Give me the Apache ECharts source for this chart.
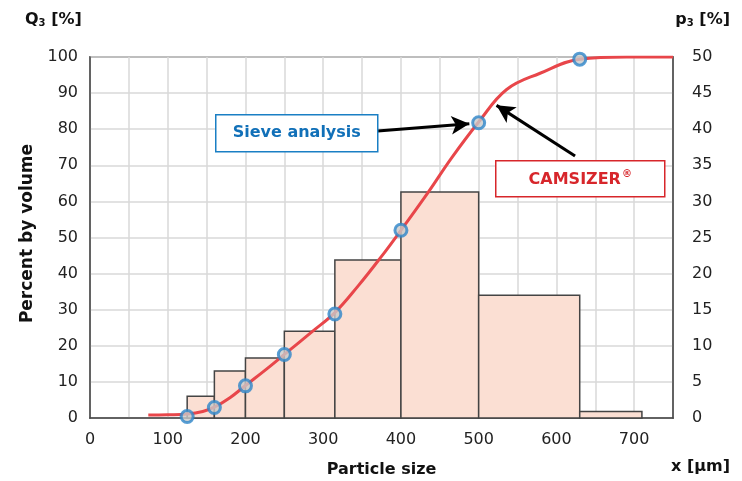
<!DOCTYPE html>
<html>
<head>
<meta charset="utf-8">
<script src="https://cdn.jsdelivr.net/npm/echarts@6/dist/echarts.min.js"></script>
<style>
  html, body { margin: 0; padding: 0; background: #fff; }
  #chart { width: 742px; height: 481px; }
</style>
</head>
<body>
<div id="chart"></div>
<script>
// sieve classes (um) and the density histogram p3 [%]
const sieveSizes = [125, 160, 200, 250, 315, 400, 500, 630, 710];
const p3Values = [3.0, 6.5, 8.3, 12.0, 21.9, 31.3, 17.0, 0.9];

// sieve analysis points, Q3 [%]
const sievePointX = [125, 160, 200, 250, 315, 400, 500, 630];
const sievePointQ3 = [0.4, 2.9, 8.9, 17.6, 28.8, 52.0, 81.8, 99.4];

// CAMSIZER cumulative curve, Q3 [%]
const curveX = [75, 100, 125, 145, 160, 180, 200, 225, 250, 285, 315, 345, 373, 400, 435, 465, 500, 536, 579, 630, 690, 750];
const curveQ3 = [0.8, 0.9, 1.1, 1.8, 3.0, 5.6, 9.0, 13.2, 17.6, 23.8, 29.2, 36.6, 44.2, 52.0, 62.5, 72.0, 82.0, 91.0, 95.5, 99.4, 100, 100];

const xTickLabels = [0, 100, 200, 300, 400, 500, 600, 700];

const font = 'DejaVu Sans, Verdana, sans-serif';
const ink = '#222';

const bins = p3Values.map((v, i) => [sieveSizes[i], sieveSizes[i + 1], v]);

const chart = echarts.init(document.getElementById('chart'));

chart.setOption({
  animation: false,
  textStyle: { fontFamily: font },
  grid: {
    left: 90, right: 69, top: 57, bottom: 63,
    containLabel: false, outerBoundsMode: 'none',
    show: true, borderColor: '#444', borderWidth: 1.5, backgroundColor: 'transparent'
  },
  xAxis: {
    type: 'value', min: 0, max: 750, interval: 50,
    name: 'Particle size', nameLocation: 'middle', nameGap: 44,
    nameTextStyle: { fontSize: 16, fontWeight: 'bold', color: '#111', fontFamily: font },
    axisLine: { show: true, lineStyle: { color: '#444', width: 1.5 } },
    axisTick: { show: false },
    axisLabel: {
      fontSize: 16, color: ink, margin: 14, fontFamily: font,
      formatter: v => (xTickLabels.includes(v) ? String(v) : '')
    },
    splitLine: { show: true, lineStyle: { color: '#d9d9d9', width: 1.5 } }
  },
  yAxis: [
    {
      type: 'value', min: 0, max: 100, interval: 10,
      name: 'Percent by volume', nameLocation: 'middle', nameGap: 48,
      nameTextStyle: { fontSize: 17, fontWeight: 'bold', color: '#111', fontFamily: font, padding: [0, 0, 0, 8] },
      axisLine: { show: true, lineStyle: { color: '#444', width: 1.5 } },
      axisTick: { show: false },
      axisLabel: { fontSize: 16, color: ink, margin: 12, fontFamily: font },
      splitLine: { show: true, lineStyle: { color: '#d9d9d9', width: 1.5 } }
    },
    {
      type: 'value', min: 0, max: 50, interval: 5, position: 'right',
      axisLine: { show: true, lineStyle: { color: '#444', width: 1.5 } },
      axisTick: { show: false },
      axisLabel: { fontSize: 16, color: ink, margin: 19, fontFamily: font },
      splitLine: { show: false }
    }
  ],
  series: [
    {
      type: 'custom',
      yAxisIndex: 1,
      data: bins,
      encode: { x: [0, 1], y: 2 },
      renderItem: function (params, api) {
        const p0 = api.coord([api.value(0), api.value(2)]);
        const p1 = api.coord([api.value(1), 0]);
        return {
          type: 'rect',
          shape: { x: p0[0], y: p0[1], width: p1[0] - p0[0], height: p1[1] - p0[1] },
          style: { fill: '#fbdfd3', stroke: '#444', lineWidth: 1.5 }
        };
      },
      z: 2
    },
    {
      type: 'line',
      yAxisIndex: 0,
      data: curveX.map((x, i) => [x, curveQ3[i]]),
      smooth: 0.4,
      showSymbol: false,
      lineStyle: { color: '#e8464a', width: 3 },
      z: 3
    },
    {
      type: 'scatter',
      yAxisIndex: 0,
      data: sievePointX.map((x, i) => [x, sievePointQ3[i]]),
      symbol: 'circle',
      symbolSize: 12,
      itemStyle: { color: '#c9c9c9', borderColor: '#2e86c9', borderWidth: 3 },
      z: 4,
      markLine: {
        silent: true,
        symbol: ['none', 'arrow'],
        symbolSize: 15,
        label: { show: false },
        lineStyle: { color: '#000', width: 3, type: 'solid', opacity: 1 },
        emphasis: { disabled: true },
        data: [
          [{ coord: [370, 79.5], symbol: 'none' }, { coord: [488, 81.5], symbol: 'arrow', symbolSize: [14, 18] }],
          [{ coord: [624, 72.6], symbol: 'none' }, { coord: [523, 86.6], symbol: 'arrow', symbolSize: [14, 18] }]
        ]
      }
    }
  ],
  graphic: {
    zlevel: 1,
    elements: [
      {
        type: 'text', left: 25, top: 12,
        style: {
          text: '{b|Q}{s|3}{b| [%]}',
          rich: {
            b: { fontSize: 16, fontWeight: 'bold', fill: '#111', fontFamily: font, verticalAlign: 'bottom', lineHeight: 22 },
            s: { fontSize: 10, fontWeight: 'bold', fill: '#111', fontFamily: font, verticalAlign: 'bottom', lineHeight: 16, padding: [6, 0, 0, 0] }
          }
        }
      },
      {
        type: 'text', right: 12, top: 12,
        style: {
          text: '{b|p}{s|3}{b| [%]}',
          rich: {
            b: { fontSize: 16, fontWeight: 'bold', fill: '#111', fontFamily: font, verticalAlign: 'bottom', lineHeight: 22 },
            s: { fontSize: 10, fontWeight: 'bold', fill: '#111', fontFamily: font, verticalAlign: 'bottom', lineHeight: 16, padding: [6, 0, 0, 0] }
          }
        }
      },
      {
        type: 'text', right: 12, top: 459,
        style: { text: 'x [µm]', fontSize: 16, fontWeight: 'bold', fill: '#111', fontFamily: font }
      },
      {
        type: 'group', left: 215, top: 114,
        children: [
          { type: 'rect', z: 100, shape: { x: 0, y: 0, width: 162, height: 37 }, style: { fill: '#fff', stroke: '#1a7fc4', lineWidth: 1.5 } },
          { type: 'text', z: 101, x: 81, y: 18.5, style: { text: 'Sieve analysis', fontSize: 16, fontWeight: 'bold', fill: '#1170b8', fontFamily: font, align: 'center', verticalAlign: 'middle' } }
        ]
      },
      {
        type: 'group', left: 495, top: 160,
        children: [
          { type: 'rect', z: 100, shape: { x: 0, y: 0, width: 169, height: 36 }, style: { fill: '#fff', stroke: '#d7262b', lineWidth: 1.5 } },
          {
            type: 'text', z: 101, x: 84.5, y: 18, style: {
              text: '{m|CAMSIZER}{r|®}', align: 'center', verticalAlign: 'middle',
              rich: {
                m: { fontSize: 16, fontWeight: 'bold', fill: '#d7262b', fontFamily: font, verticalAlign: 'bottom', lineHeight: 18 },
                r: { fontSize: 10, fontWeight: 'bold', fill: '#d7262b', fontFamily: font, verticalAlign: 'top', lineHeight: 18, padding: [0, 0, 6, 1] }
              }
            }
          }
        ]
      }
    ]
  }
});
</script>
</body>
</html>
